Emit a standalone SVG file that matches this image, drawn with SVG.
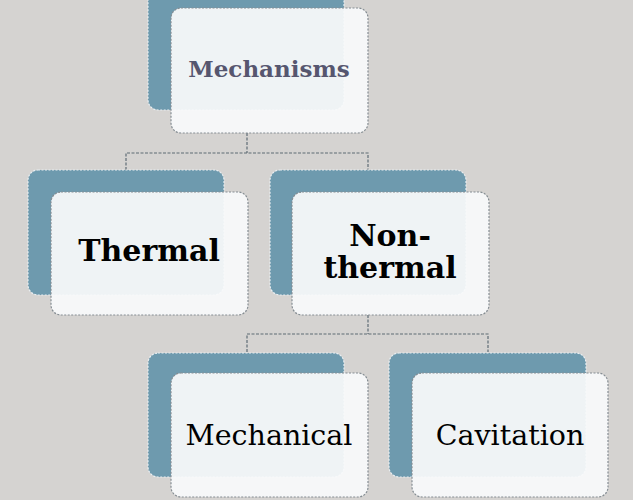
<svg xmlns="http://www.w3.org/2000/svg" width="633" height="500" viewBox="0 0 633 500">
<style>
.back{fill:#6e9aae;stroke:#e8eef2;stroke-width:1.2;stroke-dasharray:2 1.5}
.front{fill:#f9fafb;fill-opacity:0.93;stroke:#858d93;stroke-width:1.2;stroke-dasharray:2 1.5}
.conn{fill:none;stroke:#5f6c75;stroke-width:1.2;stroke-dasharray:3 1.5}
.t{font-family:"DejaVu Serif","Liberation Serif",serif;text-anchor:middle;fill:#000}
.b{font-weight:bold}
</style>
<rect width="633" height="500" fill="#d5d3d1"/>
<g id="connectors">
<path class="conn" d="M247 133V153M126 170V153H368V170"/>
<path class="conn" d="M368 315V334M247 352V334H488V352"/>
</g>
<g id="mechanisms">
<rect class="back" x="148" y="-14" width="196" height="124" rx="10"/>
<rect class="front" x="171" y="8" width="197" height="125" rx="10"/>
<text class="t b" x="269" y="77" font-size="23" style="fill:#56566f">Mechanisms</text>
</g>
<g id="thermal">
<rect class="back" x="28" y="170" width="196" height="125" rx="10"/>
<rect class="front" x="51" y="192" width="197" height="123" rx="10"/>
<text class="t b" x="149" y="261" font-size="30">Thermal</text>
</g>
<g id="nonthermal">
<rect class="back" x="270" y="170" width="196" height="125" rx="10"/>
<rect class="front" x="292" y="192" width="197" height="123" rx="10"/>
<text class="t b" x="390" y="246" font-size="30">Non-</text>
<text class="t b" x="390" y="278" font-size="30">thermal</text>
</g>
<g id="mechanical">
<rect class="back" x="148" y="353" width="196" height="124" rx="10"/>
<rect class="front" x="171" y="373" width="197" height="124" rx="10"/>
<text class="t" x="269" y="445" font-size="28.5">Mechanical</text>
</g>
<g id="cavitation">
<rect class="back" x="389" y="353" width="197" height="124" rx="10"/>
<rect class="front" x="412" y="373" width="196" height="124" rx="10"/>
<text class="t" x="510" y="445" font-size="28.5">Cavitation</text>
</g>
</svg>
